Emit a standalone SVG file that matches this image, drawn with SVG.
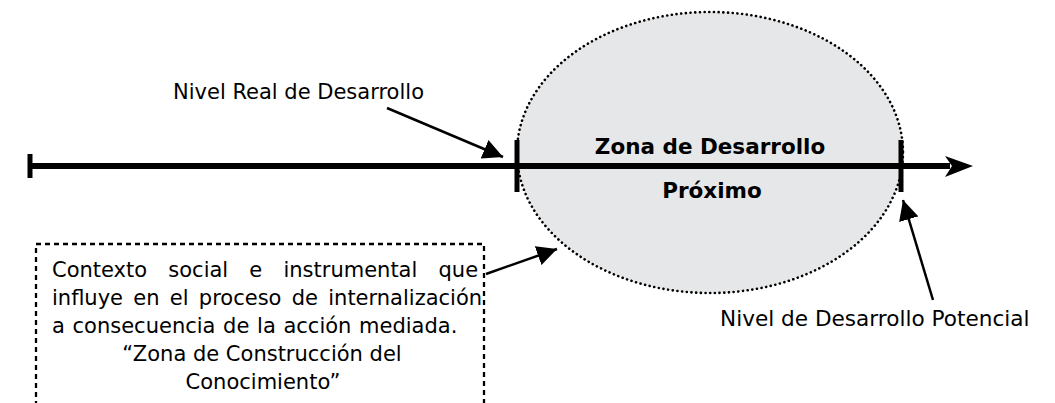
<svg xmlns="http://www.w3.org/2000/svg" width="1055" height="403" viewBox="0 0 1055 403">
<style>
text{font-family:"DejaVu Sans","Liberation Sans",sans-serif;font-size:21px;fill:#000}
.b{font-weight:bold;font-size:21.5px}
.ln{stroke:#000;stroke-width:2.5;fill:none}
</style>
<defs>
<marker id="ah2" viewBox="0 0 20 20" refX="20" refY="10" markerWidth="20" markerHeight="20" markerUnits="userSpaceOnUse" orient="auto">
<path d="M0,0 L20,10 L0,20 Z" fill="#000"/>
</marker>
</defs>
<rect width="1055" height="403" fill="#fff"/>
<g id="zona">
<ellipse cx="710" cy="152.5" rx="193" ry="140.5" fill="#e6e7e8" stroke="#000" stroke-width="2.6" stroke-dasharray="0.1 4.6" stroke-linecap="round"/>
<text class="b" x="710" y="154" text-anchor="middle">Zona de Desarrollo</text>
<text class="b" x="712" y="198" text-anchor="middle">Próximo</text>
</g>
<g id="eje">
<line x1="30" y1="166" x2="950" y2="166" stroke="#000" stroke-width="6"/>
<path d="M945,156 L973,166 L945,177 L952,166 Z" fill="#000"/>
<line x1="30" y1="154" x2="30" y2="178" stroke="#000" stroke-width="5"/>
<line x1="517" y1="140" x2="517" y2="192" stroke="#000" stroke-width="5"/>
<line x1="901" y1="140" x2="901" y2="192" stroke="#000" stroke-width="5"/>
</g>
<g id="nivel-real">
<text x="173" y="99">Nivel Real de Desarrollo</text>
</g>
<g id="nivel-potencial">
<text x="720" y="326" style="font-size:21.6px">Nivel de Desarrollo Potencial</text>
</g>
<g id="contexto">
<rect x="36" y="244" width="448" height="200" fill="none" stroke="#000" stroke-width="2.3" stroke-dasharray="5 4"/>
<text x="52" y="277" word-spacing="14.5">Contexto social e instrumental que</text>
<text x="52" y="305" word-spacing="3.6">influye en el proceso de internalización</text>
<text x="52" y="333" word-spacing="1">a consecuencia de la acción mediada.</text>
<text x="262" y="361" text-anchor="middle">“Zona de Construcción del</text>
<text x="263" y="389" text-anchor="middle">Conocimiento”</text>
</g>
<g id="connectors">
<line class="ln" x1="387" y1="108" x2="503" y2="157" marker-end="url(#ah2)"/>
<line class="ln" x1="486" y1="274" x2="557" y2="249" marker-end="url(#ah2)"/>
<line class="ln" x1="933" y1="300" x2="903" y2="200" marker-end="url(#ah2)"/>
</g>
</svg>
